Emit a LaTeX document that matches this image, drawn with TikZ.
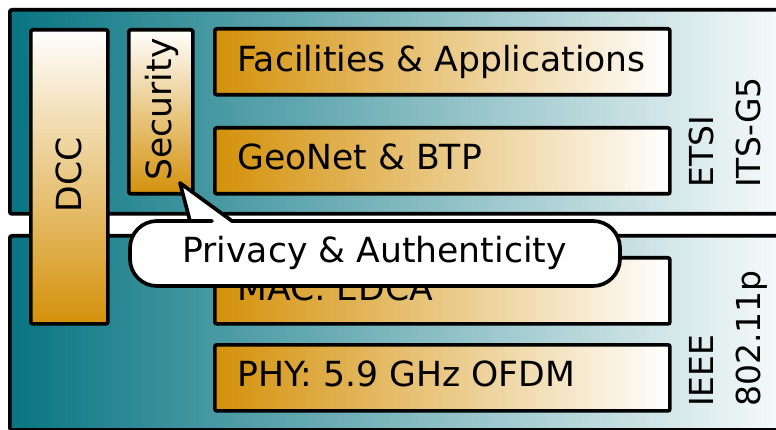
\documentclass[tikz,border=0pt]{standalone}
\usepackage{fontspec}
\setmainfont{DejaVu Sans}
\definecolor{itsteal}{RGB}{8,117,130}
\definecolor{itsgold}{RGB}{212,145,10}
\begin{document}
\begin{tikzpicture}[x=1pt,y=-1pt,
  frame/.style={draw=black, line width=3.7pt, rounded corners=2pt, inner sep=0pt, anchor=north west},
  band/.style={frame, left color=itsteal, right color=white},
  layer/.style={frame, left color=itsgold, right color=white, minimum width=455pt, minimum height=66pt},
  column/.style={frame, top color=white, bottom color=itsgold},
  lbl/.style={font=\fontsize{34.6}{40}\selectfont, inner sep=0pt},
  side/.style={font=\fontsize{33}{40}\selectfont, inner sep=0pt, rotate=90, anchor=base west},
  callout/.style={draw=black, fill=white, line width=3.7pt, line join=round}
]
\useasboundingbox (0,0) rectangle (776,430);
\clip (0,0) rectangle (776,430);

% the two standards bands
\node[band, minimum width=800pt, minimum height=204pt] (etsiband) at (8,8) {};
\node[band, minimum width=800pt, minimum height=194pt] (ieeeband) at (8,234) {};

% vertical columns spanning the layers
\node[column, minimum width=77pt, minimum height=294pt] (dcc) at (29,28) {};
\node[column, minimum width=64pt, minimum height=164pt] (sec) at (127,28) {};
\node[lbl, rotate=90, anchor=base] (dcctext) at (81,175) {DCC};
\node[lbl, rotate=90, anchor=base] (sectext) at (171,109.5) {Security};

% protocol layers
\node[layer] (fac) at (213,27) {};
\node[layer] (geo) at (213,126) {};
\node[layer] (mac) at (213,256) {};
\node[layer] (phy) at (213,343) {};
\node[lbl, anchor=base west] (factext) at (237,72) {Facilities \& Applications};
\node[lbl, anchor=base west] (geotext) at (237,170) {GeoNet \& BTP};
\node[lbl, anchor=base west] (mactext) at (237,300) {MAC: EDCA};
\node[lbl, anchor=base west] (phytext) at (237,386) {PHY: 5.9 GHz OFDM};

% standard names
\node[side] (etsi) at (713,188) {ETSI};
\node[side] (itsg) at (760,188) {ITS-G5};
\node[side] (ieee) at (713,407) {IEEE};
\node[side] (dot11p) at (760,407) {802.11p};

% speech bubble pointing at the security column
\draw[callout, rounded corners=27pt] (400,221) -- (620,221) -- (620,286) -- (130,286) -- (130,221) -- (185,221)
  [sharp corners] -- (190,221) -- (180,183) -- (232,221) -- (240,221) [rounded corners=27pt] -- cycle;
\node[lbl, anchor=base] (bubble) at (374.5,263) {Privacy \& Authenticity};
\end{tikzpicture}
\end{document}
